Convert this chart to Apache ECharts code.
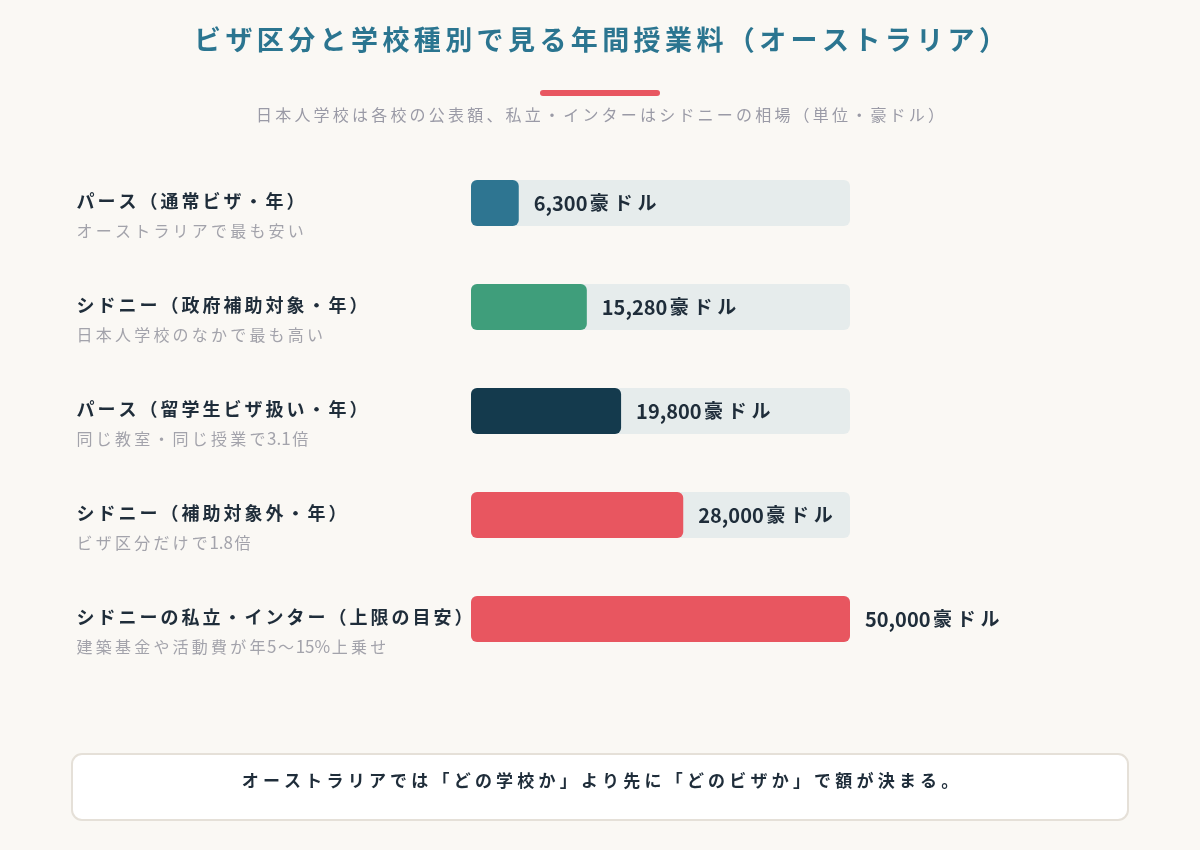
<!DOCTYPE html>
<html lang="ja">
<head>
<meta charset="utf-8">
<title>ビザ区分と学校種別で見る年間授業料</title>
<script src="https://cdn.jsdelivr.net/npm/echarts@6/dist/echarts.min.js"></script>
<style>
  html, body { margin: 0; padding: 0; background: #faf8f4; }
  #chart { width: 1200px; height: 850px; }
</style>
</head>
<body>
<div id="chart"></div>
<script>
// 項目名・補足・金額（豪ドル）
var names = ['パース（通常ビザ・年）', 'シドニー（政府補助対象・年）', 'パース（留学生ビザ扱い・年）', 'シドニー（補助対象外・年）', 'シドニーの私立・インター（上限の目安）'];
var notes = ['オーストラリアで最も安い', '日本人学校のなかで最も高い', '同じ教室・同じ授業で3.1倍', 'ビザ区分だけで1.8倍', '建築基金や活動費が年5〜15%上乗せ'];
var fees = [6300, 15280, 19800, 28000, 50000];
var barColors = ['#2e7591', '#3f9e7b', '#143a4d', '#e85660', '#e85660'];
var axisMax = 50000;

var font = '"Noto Sans CJK JP", "Noto Sans", sans-serif';

// 和文だけ文字間隔をつける（英数字はそのまま）
function spaced(text, key) {
    return text.match(/[\x00-\x7f]+|[^\x00-\x7f]/g).map(function (c) {
        return /[\x00-\x7f]/.test(c) ? '{' + key + 'a|' + c + '}' : '{' + key + '|' + c + '}';
    }).join('');
}
function richPair(key, base, pad, asciiSize) {
    var r = {};
    r[key] = Object.assign({ padding: [0, pad, 0, pad] }, base);
    r[key + 'a'] = Object.assign({}, base, asciiSize ? { fontSize: asciiSize } : {});
    return r;
}

var chart = echarts.init(document.getElementById('chart'));

var nameStyle = { fontSize: 18, fontWeight: 'bold', color: '#1f2d3a', lineHeight: 30, fontFamily: font };
var noteStyle = { fontSize: 16, color: '#a3a3ab', lineHeight: 30, fontFamily: font };
var valStyle = { fontSize: 19, fontWeight: 'bold', color: '#1f2d3a', fontFamily: font };

var option = {
    backgroundColor: '#faf8f4',
    textStyle: { fontFamily: font },
    grid: { left: 471, right: 350, top: 151, height: 520 },
    xAxis: { type: 'value', min: 0, max: axisMax, show: false },
    yAxis: {
        type: 'category',
        inverse: true,
        data: names,
        axisLine: { show: false },
        axisTick: { show: false },
        z: 1,
        axisLabel: {
            align: 'left',
            margin: 396,
            padding: [26, 0, 0, 0],
            formatter: function (v, i) {
                return spaced(v, 'n') + '\n' + spaced(notes[i], 's');
            },
            rich: Object.assign(richPair('n', nameStyle, 1.5), richPair('s', noteStyle, 1.6, 17))
        }
    },
    series: [{
        type: 'bar',
        barWidth: 46,
        data: fees.map(function (v, i) {
            return { value: v, itemStyle: { color: barColors[i] } };
        }),
        itemStyle: { borderRadius: 6 },
        showBackground: true,
        backgroundStyle: { color: '#e6ecec', borderRadius: 6 },
        label: {
            show: true,
            position: 'right',
            distance: 15,
            formatter: function (p) {
                return spaced(p.value.toLocaleString('en-US') + '豪ドル', 'v');
            },
            rich: richPair('v', valStyle, 2.4, 20)
        },
        z: 3
    }],
    graphic: [
        {
            type: 'text', left: 'center', top: 26,
            style: {
                text: spaced('ビザ区分と学校種別で見る年間授業料（オーストラリア）', 't'),
                rich: richPair('t', { fontSize: 27, fontWeight: 'bold', fill: '#2b7590', fontFamily: font }, 2.2)
            }
        },
        {
            type: 'rect', shape: { x: 540, y: 90, width: 120, height: 6, r: 3 },
            style: { fill: '#e85660' }
        },
        {
            type: 'text', left: 'center', top: 107,
            style: {
                text: spaced('日本人学校は各校の公表額、私立・インターはシドニーの相場（単位・豪ドル）', 'u'),
                rich: richPair('u', { fontSize: 16, fill: '#9a9aa6', fontFamily: font }, 1.6)
            }
        },
        {
            type: 'rect', shape: { x: 72, y: 754, width: 1056, height: 66, r: 10 },
            style: { fill: '#ffffff', stroke: '#e5e0d8', lineWidth: 2 }
        },
        {
            type: 'text', left: 'center', top: 772,
            style: {
                text: spaced('オーストラリアでは「どの学校か」より先に「どのビザか」で額が決まる。', 'b'),
                rich: richPair('b', { fontSize: 17, fontWeight: 'bold', fill: '#1f2d3a', fontFamily: font }, 2.1)
            }
        }
    ]
};

chart.setOption(option);
</script>
</body>
</html>
